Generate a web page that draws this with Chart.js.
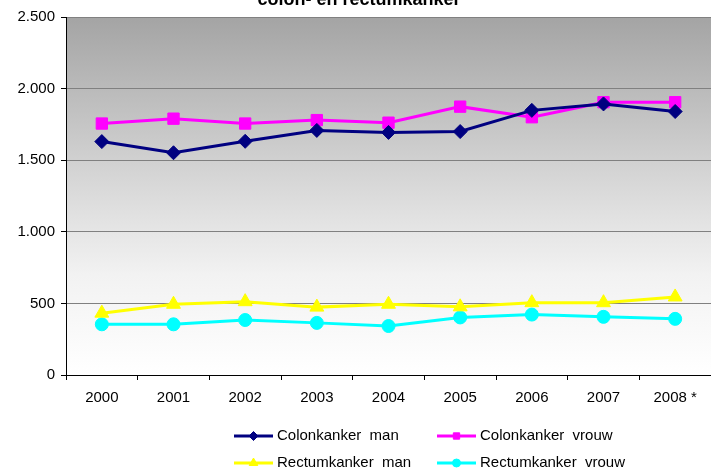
<!DOCTYPE html>
<html>
<head>
<meta charset="utf-8">
<script src="https://cdn.jsdelivr.net/npm/chart.js@4"></script>
<style>
html,body{margin:0;padding:0;background:#fff;overflow:hidden;}
#wrap{width:720px;height:470px;position:relative;}
</style>
</head>
<body>
<div id="wrap"><canvas id="c" width="720" height="470"></canvas></div>
<script>
const titleText = 'colon- en rectumkanker';
const categories = ['2000','2001','2002','2003','2004','2005','2006','2007','2008 *'];
const colonMan = [1630, 1552, 1632, 1708, 1694, 1700, 1848, 1893, 1840];
const colonVrouw = [1756, 1790, 1756, 1780, 1762, 1874, 1800, 1905, 1905];
const rectumMan = [432, 494, 512, 474, 494, 476, 505, 505, 545];
const rectumVrouw = [354, 354, 384, 364, 342, 402, 422, 406, 392];
const seriesNames = ['Colonkanker  man', 'Colonkanker  vrouw', 'Rectumkanker  man', 'Rectumkanker  vrouw'];
const yTicks = [0, 500, 1000, 1500, 2000, 2500];

const FONT = 'Arial, "Liberation Sans", sans-serif';

const bgPlugin = {
  id: 'bg',
  beforeDraw(chart) {
    const {ctx, chartArea: a} = chart;
    const g = ctx.createLinearGradient(0, a.top, 0, a.bottom);
    g.addColorStop(0, '#a4a4a4');
    g.addColorStop(0.45, '#d6d6d6');
    g.addColorStop(0.72, '#f2f2f2');
    g.addColorStop(1, '#ffffff');
    ctx.save();
    ctx.fillStyle = g;
    ctx.fillRect(a.left, a.top, a.right - a.left, a.bottom - a.top);
    ctx.strokeStyle = '#808080';
    ctx.lineWidth = 1;
    ctx.beginPath();
    ctx.moveTo(a.left, a.top + 0.5);
    ctx.lineTo(a.right, a.top + 0.5);
    ctx.stroke();
    ctx.restore();
  }
};

const titlePlugin = {
  id: 'ttl',
  afterDraw(chart) {
    const ctx = chart.ctx;
    ctx.save();
    ctx.font = 'bold 18px ' + FONT;
    ctx.fillStyle = '#000';
    ctx.textAlign = 'center';
    ctx.textBaseline = 'alphabetic';
    ctx.fillText(titleText, 359, 5);
    ctx.restore();
  }
};

const legendPlugin = {
  id: 'leg',
  afterDraw(chart) {
    const ctx = chart.ctx;
    const pos = [[234, 436], [437, 436], [234, 463], [437, 463]];
    chart.data.datasets.forEach((ds, i) => {
      const [x, y] = pos[i];
      ctx.save();
      ctx.strokeStyle = ds.borderColor;
      ctx.fillStyle = ds.borderColor;
      ctx.lineWidth = 3;
      ctx.beginPath();
      ctx.moveTo(x, y);
      ctx.lineTo(x + 39, y);
      ctx.stroke();
      ctx.lineWidth = 1;
      Chart.helpers.drawPoint(ctx, {
        pointStyle: ds.pointStyle,
        radius: ds.legendRadius,
        borderWidth: 1
      }, x + 19.5, y);
      ctx.fillStyle = '#000';
      ctx.font = '15px ' + FONT;
      ctx.textBaseline = 'middle';
      ctx.textAlign = 'left';
      ctx.fillText(ds.label, x + 43, y);
      ctx.restore();
    });
  }
};

function ds(label, data, color, style, r, lr) {
  return {
    label, data,
    borderColor: color,
    backgroundColor: color,
    pointBackgroundColor: color,
    pointBorderColor: color,
    borderWidth: 3,
    pointStyle: style,
    pointRadius: r,
    pointBorderWidth: 1,
    legendRadius: lr,
    tension: 0
  };
}

new Chart(document.getElementById('c'), {
  type: 'line',
  data: {
    labels: categories,
    datasets: [
      ds(seriesNames[0], colonMan, '#000080', 'rectRot', 7, 4.5),
      ds(seriesNames[1], colonVrouw, '#ff00ff', 'rect', 8, 4.5),
      ds(seriesNames[2], rectumMan, '#ffff00', 'triangle', 8, 5),
      ds(seriesNames[3], rectumVrouw, '#00ffff', 'circle', 6.5, 4)
    ]
  },
  options: {
    responsive: false,
    animation: false,
    devicePixelRatio: 1,
    layout: {padding: {top: 17, right: 1, left: 0, bottom: 0}},
    plugins: {legend: {display: false}, tooltip: {enabled: false}, title: {display: false}},
    scales: {
      x: {
        type: 'category',
        offset: true,
        grid: {offset: true, drawOnChartArea: false, tickLength: 5, color: '#000', tickColor: '#000'},
        border: {color: '#000', width: 1},
        ticks: {color: '#000', font: {family: FONT, size: 15}, padding: 9, maxRotation: 0, autoSkip: false},
        afterFit(s) { s.height = 95; }
      },
      y: {
        min: 0, max: 2500,
        afterBuildTicks(s) { s.ticks = yTicks.map(v => ({value: v})); },
        grid: {color: '#808080', tickColor: '#000', tickLength: 5, lineWidth: 1},
        border: {color: '#000', width: 1},
        ticks: {
          color: '#000', font: {family: FONT, size: 15}, padding: 6,
          callback: v => v.toLocaleString('nl-NL')
        },
        afterFit(s) { s.width = 66; }
      }
    }
  },
  plugins: [bgPlugin, titlePlugin, legendPlugin]
});
</script>
</body>
</html>
